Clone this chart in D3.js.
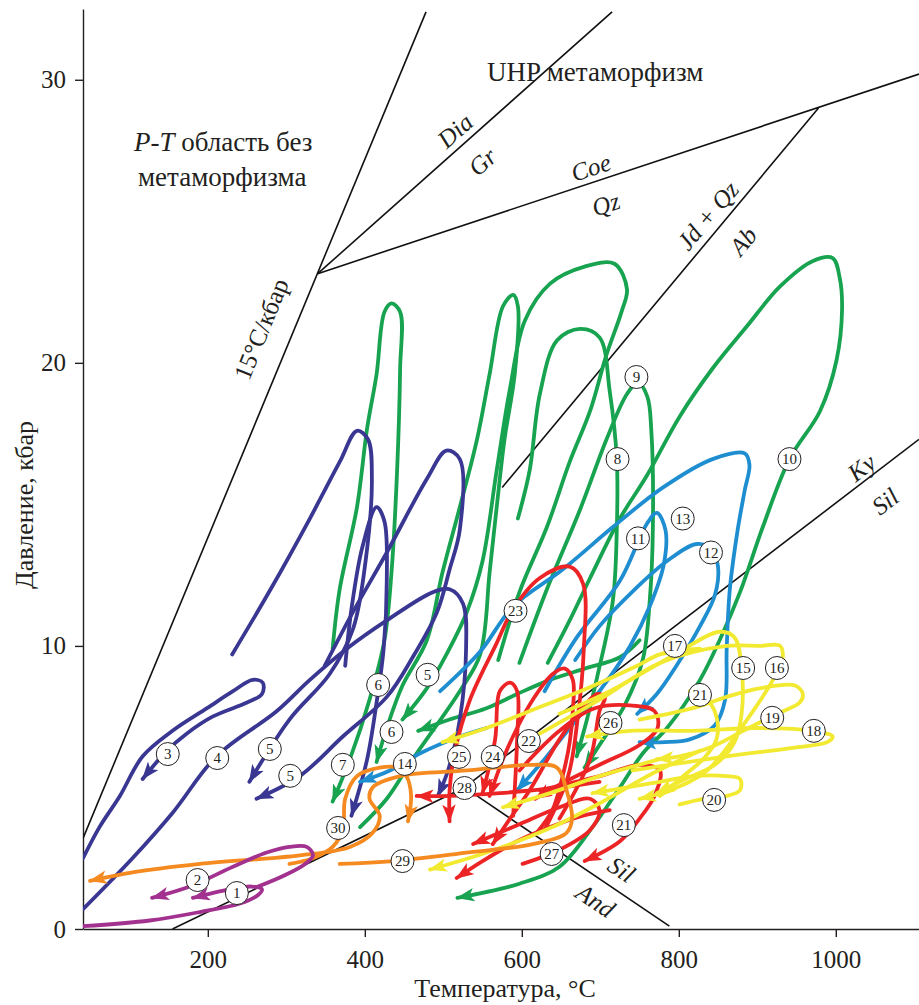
<!DOCTYPE html>
<html>
<head>
<meta charset="utf-8">
<script src="https://cdn.jsdelivr.net/npm/d3@7"></script>
<style>
  body { margin: 0; background: #fff; }
  svg { display: block; }
  text { font-family: "Liberation Serif", "Times New Roman", serif; fill: #231f20; }
</style>
</head>
<body>
<svg id="chart" width="919" height="1005"></svg>
<script>
// axis ticks
const tempTicks = [200, 400, 600, 800, 1000];
const presTicks = [0, 10, 20, 30];

// phase boundaries [T, P]
const boundaries = [
  [[41, 3.2], [478, 32.4]],        // 15 C/kbar
  [[340, 23.15], [715, 32.4]],     // Dia / Gr
  [[340, 23.15], [1106, 30.2]],    // Coe / Qz
  [[978, 29.0], [575, 15.6]],      // Jd+Qz / Ab
  [[155, 0], [527, 5.0]],          // Ky / And
  [[527, 5.0], [1106, 17.3]],      // Ky / Sil
  [[527, 5.0], [788, 0.1]]         // And / Sil
];

// P-T paths, each ends with an arrow
const purplePaths = [
  [[41,0.1],[126,0.3],[190,0.6],[241,0.9],[264,1.2],[269,1.4],[256,1.5],[228,1.4],[181,1.1]],
  [[264,1.5],[298,1.9],[324,2.3],[334,2.6],[326,2.9],[304,2.9],[275,2.7],[232,2.2],[177,1.5],[129,1.1]]
];
const navyPaths = [
  [[41,2.5],[62,3.6],[88,4.7],[117,6.1],[155,7.0],[199,7.8],[232,8.4],[257,8.8],[270,8.7],[269,8.3],[250,8.0],[206,7.5],[173,6.9],[148,6.3],[117,5.3]],
  [[41,0.7],[104,2.5],[155,4.1],[211,6.1],[288,7.7],[330,8.8],[377,9.9],[428,10.9],[487,11.9],[508,12.0],[525,11.5],[529,9.9],[521,7.4],[506,5.6],[493,4.7]],
  [[231,9.7],[280,12.0],[330,14.5],[368,16.5],[390,17.6],[404,17.3],[409,15.9],[401,13.0],[385,10.6],[355,9.0],[304,7.4],[253,5.2]],
  [[375,9.3],[383,11.3],[397,13.5],[415,14.9],[425,14.4],[428,12.3],[424,9.9],[415,8.0],[403,6.0],[383,4.0]],
  [[349,9.3],[385,11.2],[428,13.3],[479,15.9],[504,16.9],[521,16.6],[521,14.1],[508,12.7],[492,11.2],[461,9.6],[428,8.2],[372,6.8],[317,5.4],[262,4.6]]
];
const greenPaths = [
  [[359,9.9],[368,12.0],[390,14.9],[403,17.7],[415,19.6],[425,21.8],[434,22.1],[445,21.8],[445,19.8],[441,16.1],[434,12.6],[425,10.2],[406,8.1],[381,6.0],[359,4.5]],
  [[394,3.6],[428,4.6],[461,6.0],[521,8.4],[547,9.7],[559,12.6],[568,14.9],[578,17.3],[591,19.6],[595,22.0],[589,22.4],[576,22.0],[559,19.6],[543,17.3],[521,14.9],[499,12.6],[479,10.2],[448,8.6],[428,7.1],[415,5.9]],
  [[570,9.5],[597,11.9],[632,14.2],[661,16.5],[687,18.3],[708,20.3],[727,21.8],[734,22.6],[718,23.5],[680,23.4],[636,22.8],[604,21.5],[585,19.1],[568,16.2],[550,13.0],[530,11.2],[504,9.7],[479,8.5],[448,7.4]],
  [[595,14.5],[610,16.2],[623,18.9],[645,20.8],[674,21.2],[699,20.9],[712,19.0],[721,16.6],[721,14.1],[716,11.6],[696,8.9],[683,7.4],[670,6.1]],
  [[597,9.4],[632,12.0],[674,14.8],[708,17.3],[734,18.9],[748,19.3],[760,18.8],[765,17.6],[767,14.2],[763,11.6],[754,9.5],[731,7.9],[699,6.5],[680,5.7]],
  [[633,9.4],[661,10.9],[687,12.4],[725,14.5],[759,16.0],[801,18.1],[843,19.8],[887,21.3],[929,22.7],[971,23.6],[996,23.7],[1005,23.0],[1008,21.9],[1001,20.1],[980,18.3],[941,16.6],[907,14.2],[878,11.9],[852,10.2],[827,8.8],[785,7.1],[754,6.2],[725,5.0],[690,3.6],[648,2.2],[597,1.6],[518,1.1]],
  [[750,10.2],[725,9.6],[680,9.2],[636,8.8],[594,8.3],[555,7.8],[508,7.4],[468,7.0]]
];
const bluePaths = [
  [[629,8.4],[670,10.3],[725,12.3],[759,14.3],[772,14.7],[783,14.1],[781,12.9],[763,11.4],[738,10.0],[699,8.4],[661,7.1],[629,6.0],[594,4.9]],
  [[668,9.5],[699,10.7],[744,12.0],[785,13.0],[823,13.6],[842,13.4],[850,12.8],[846,11.8],[827,10.7],[797,9.3],[772,8.3],[747,7.6]],
  [[496,8.4],[547,9.8],[589,11.4],[652,12.7],[716,14.2],[780,15.6],[843,16.6],[884,16.8],[890,16.4],[884,15.5],[875,14.1],[865,12.0],[861,9.9],[859,8.1],[846,7.2],[814,6.7],[782,6.6],[750,6.6]],
  [[555,7.1],[521,6.8],[470,6.2],[432,5.6],[394,5.2]]
];
const redPaths = [
  [[629,3.5],[659,5.4],[671,7.4],[679,9.9],[678,12.2],[661,12.8],[623,12.4],[589,11.3],[568,10.1],[534,8.1],[515,6.3],[508,4.9],[508,3.8]],
  [[589,4.0],[594,6.7],[594,8.4],[585,8.7],[572,8.4],[566,6.7],[550,4.8]],
  [[619,3.4],[639,4.2],[652,5.4],[661,6.6],[665,7.7],[665,8.8],[655,9.2],[639,9.0],[614,8.1],[594,7.1],[576,6.0],[559,4.7]],
  [[699,5.2],[648,5.0],[572,4.8],[508,4.7],[466,4.7]],
  [[597,5.6],[648,7.0],[693,7.8],[738,7.9],[769,7.7],[773,7.1],[750,6.5],[699,5.8],[648,5.1],[617,4.6]],
  [[623,4.9],[699,5.4],[750,5.8],[776,5.6],[769,4.7],[750,3.9],[725,3.1],[680,2.4]],
  [[601,2.3],[648,2.8],[687,3.5],[699,4.2],[687,4.6],[648,4.3],[597,3.7],[538,3.0]],
  [[648,3.9],[687,6.0],[699,7.7],[706,8.2],[696,8.3],[680,7.9],[648,6.7],[610,4.9],[585,3.9],[563,3.0]],
  [[712,4.2],[678,4.0],[636,3.6],[594,3.1],[550,2.4],[517,1.8]]
];
const yellowPaths = [
  [[648,7.6],[712,8.4],[789,9.6],[852,10.5],[871,10.3],[880,9.2],[880,7.6],[871,6.6],[846,5.8],[808,5.3],[772,4.8]],
  [[623,6.9],[699,8.1],[776,9.4],[861,10.0],[903,10.0],[929,10.0],[932,9.5],[920,8.8],[887,7.4],[836,5.6],[789,4.9],[750,4.6]],
  [[827,9.9],[776,9.7],[747,9.3],[683,8.5],[619,7.8],[555,7.1],[499,6.6]],
  [[741,5.6],[861,6.1],[945,6.4],[989,6.6],[996,6.8],[971,7.0],[903,7.1],[818,7.0],[738,7.0],[683,6.8]],
  [[750,7.4],[818,7.8],[861,8.2],[903,8.5],[948,8.6],[958,8.3],[954,8.0],[925,7.6],[882,7.0],[839,6.4],[801,6.1],[772,6.0]],
  [[801,4.4],[831,4.6],[861,4.7],[878,4.9],[878,5.3],[861,5.4],[818,5.4],[776,5.2],[734,5.0],[690,4.8]],
  [[814,8.4],[836,8.1],[848,7.5],[848,6.7],[831,6.0],[810,5.5],[776,4.7]],
  [[776,6.0],[699,5.4],[636,4.8],[576,4.3]],
  [[827,6.3],[767,5.5],[703,4.5],[639,3.6],[555,2.7],[483,2.1]]
];
const orangePaths = [
  [[368,2.3],[436,2.4],[530,2.7],[614,3.0],[657,3.4],[664,3.9],[657,4.9],[645,5.7],[614,5.8],[530,5.6],[445,5.4],[410,5.0],[406,4.6],[419,4.0],[410,3.4],[381,2.9],[317,2.6],[190,2.3],[104,2.0],[50,1.7]],
  [[304,2.3],[334,2.5],[359,2.9],[372,3.5],[375,4.6],[390,5.4],[419,5.7],[441,5.7],[453,5.4],[459,4.7],[455,3.8]]
];

// numbered markers [T, P, number]
const pathLabels = [
  [237,1.27,1],[187,1.73,2],[149,6.18,3],[212,6.04,4],[279,6.36,5],[305,5.41,5],[480,8.98,5],
  [417,8.62,6],[434,6.96,6],[372,5.8,7],[722,16.6,8],[746,19.5,9],[941,16.6,10],[748,13.8,11],
  [841,13.3,12],[805,14.5,13],[451,5.83,14],[882,9.22,15],[925,9.22,16],[795,10.0,17],[972,7.0,18],
  [919,7.46,19],[845,4.56,20],[827,8.27,21],[730,3.67,21],[609,6.64,22],[592,11.24,23],[563,6.08,24],
  [520,6.08,25],[713,7.28,26],[638,2.65,27],[527,4.98,28],[448,2.4,29],[366,3.57,30]
];

// boundary captions [T, P, text, angle, italic]
const boundaryCaptions = [
  [268, 21.2, "15°C/кбар", -67.8, false],
  [515, 28.2, "Dia", -41.8, true],
  [550, 27.1, "Gr", -41.8, true],
  [688, 26.9, "Coe", -18.5, true],
  [707, 25.6, "Qz", -18.5, true],
  [837, 25.2, "Jd + Qz", -50, true],
  [882, 24.3, "Ab", -50, true],
  [1033, 16.3, "Ky", -37.5, true],
  [1063, 15.1, "Sil", -37.5, true],
  [727, 2.1, "Sil", 33.8, true],
  [694, 1.0, "And", 33.8, true]
];

const colors = {
  purple: "#a2318f", navy: "#3a3793", green: "#17a34f", blue: "#1f8ed0",
  red: "#ec2426", yellow: "#f2e931", orange: "#f58a20"
};

const svg = d3.select("#chart");
const plotLeft = 83, plotRight = 919, plotTop = 9, plotBottom = 929;

const x = d3.scaleLinear().domain([41, 1106]).range([plotLeft, plotRight]);
const y = d3.scaleLinear().domain([0, 32.5]).range([plotBottom, plotTop]);

const defs = svg.append("defs");
defs.append("clipPath").attr("id", "plotClip")
  .append("rect").attr("x", plotLeft).attr("y", plotTop)
  .attr("width", plotRight - plotLeft).attr("height", plotBottom - plotTop);

// axes
const xAxis = svg.append("g").attr("transform", `translate(0,${plotBottom})`)
  .call(d3.axisBottom(x).tickValues(tempTicks).tickFormat(d3.format("d"))
    .tickSize(8).tickSizeOuter(0).tickPadding(13));
const yAxis = svg.append("g").attr("transform", `translate(${plotLeft},0)`)
  .call(d3.axisLeft(y).tickValues(presTicks).tickFormat(d3.format("d"))
    .tickSize(8).tickSizeOuter(0).tickPadding(9));
[xAxis, yAxis].forEach(g => {
  g.select(".domain").attr("stroke", "#231f20").attr("stroke-width", 1.4);
  g.selectAll(".tick line").attr("stroke", "#231f20").attr("stroke-width", 1.4);
  g.selectAll(".tick text").attr("font-size", 25).attr("font-family", "Liberation Serif").attr("fill", "#231f20");
});

svg.append("text").attr("x", 505).attr("y", 997).attr("text-anchor", "middle")
  .attr("font-size", 26).text("Температура, °C");
svg.append("text").attr("transform", "translate(33,505) rotate(-90)").attr("text-anchor", "middle")
  .attr("font-size", 26).text("Давление, кбар");

const plot = svg.append("g").attr("clip-path", "url(#plotClip)");

// boundaries
const straight = d3.line().x(d => x(d[0])).y(d => y(d[1]));
plot.selectAll(".boundary").data(boundaries).join("path")
  .attr("class", "boundary").attr("d", straight)
  .attr("fill", "none").attr("stroke", "#111").attr("stroke-width", 1.6);

// region captions
const title1 = svg.append("text").attr("x", 134).attr("y", 151).attr("font-size", 27);
title1.append("tspan").attr("font-style", "italic").text("P-T");
title1.append("tspan").text(" область без");
svg.append("text").attr("x", 138).attr("y", 186).attr("font-size", 27).text("метаморфизма");
svg.append("text").attr("x", 487).attr("y", 81).attr("font-size", 27).text("UHP метаморфизм");

svg.selectAll(".bcap").data(boundaryCaptions).join("text")
  .attr("class", "bcap")
  .attr("transform", d => `translate(${x(d[0])},${y(d[1])}) rotate(${d[3]})`)
  .attr("text-anchor", "middle").attr("dominant-baseline", "central")
  .attr("font-size", 25)
  .attr("font-style", d => d[4] ? "italic" : "normal")
  .text(d => d[2]);

// arrow markers
Object.entries(colors).forEach(([name, c]) => {
  defs.append("marker").attr("id", "arrow-" + name)
    .attr("viewBox", "0 0 16 12").attr("refX", 15).attr("refY", 6)
    .attr("markerWidth", 18).attr("markerHeight", 14)
    .attr("markerUnits", "userSpaceOnUse").attr("orient", "auto")
    .append("path").attr("d", "M0,0 L16,6 L0,12 L4,6 Z").attr("fill", c);
});

const smooth = d3.line().x(d => x(d[0])).y(d => y(d[1])).curve(d3.curveCatmullRom.alpha(0.5));

function drawPaths(paths, name) {
  plot.append("g").selectAll("path").data(paths).join("path")
    .attr("d", smooth)
    .attr("fill", "none")
    .attr("stroke", colors[name])
    .attr("stroke-width", 3.8)
    .attr("stroke-linejoin", "round")
    .attr("stroke-linecap", "round")
    .attr("marker-end", `url(#arrow-${name})`);
}

drawPaths(greenPaths, "green");
drawPaths(navyPaths, "navy");
drawPaths(bluePaths, "blue");
drawPaths(redPaths, "red");
drawPaths(yellowPaths, "yellow");
drawPaths(orangePaths, "orange");
drawPaths(purplePaths, "purple");

// numbered circles
const lab = svg.append("g").selectAll("g").data(pathLabels).join("g")
  .attr("transform", d => `translate(${x(d[0])},${y(d[1])})`);
lab.append("circle").attr("r", 11.5).attr("fill", "#fff").attr("stroke", "#231f20").attr("stroke-width", 1);
lab.append("text").attr("text-anchor", "middle").attr("dy", "0.35em")
  .attr("font-size", 15).text(d => d[2]);
</script>
</body>
</html>
